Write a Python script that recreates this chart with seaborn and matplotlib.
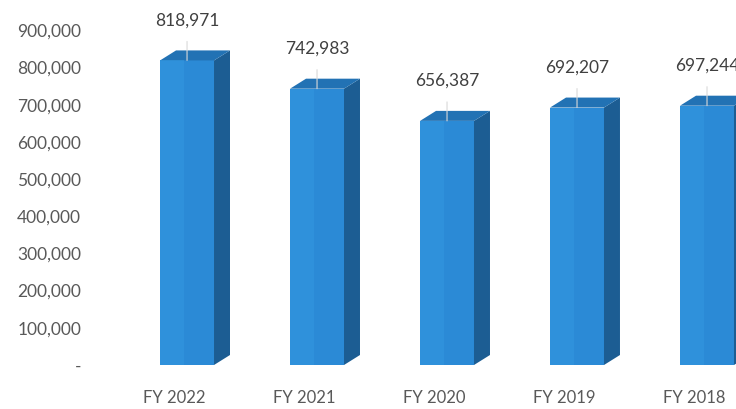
import numpy as np
import matplotlib
matplotlib.use("Agg")
import matplotlib.pyplot as plt
from matplotlib.patches import Polygon
import seaborn as sns

# ── data ─────────────────────────────────────────────
years  = ['FY 2022', 'FY 2021', 'FY 2020', 'FY 2019', 'FY 2018']
values = [818971, 742983, 656387, 692207, 697244]
yticks = [0, 100000, 200000, 300000, 400000, 500000, 600000, 700000, 800000, 900000]

FRONT = '#2b8ad6'
SIDE  = '#1c5d93'
TOP   = '#2272b4'
TXT   = '#404040'

sns.set_theme(style='white')
plt.rcParams['font.family'] = ['Lato', 'DejaVu Sans']

fig = plt.figure(figsize=(7.36, 4.09), dpi=100)
ax = fig.add_axes([95 / 736, 1 - 365 / 409, 1 - 95 / 736, 360 / 409])

sns.barplot(x=years, y=values, color=FRONT, width=0.415, saturation=1,
            edgecolor='none', ax=ax)

ax.set_ylim(0, 968000)
ax.set_xlim(-0.708, 4.223)

# fake 3d: side + top faces taken from each bar
depth_x = 0.123
depth_y = 26900
for p in ax.patches:
    x0 = p.get_x()
    x1 = x0 + p.get_width()
    h = p.get_height()
    side = Polygon([(x1, 0), (x1 + depth_x, depth_y), (x1 + depth_x, h + depth_y), (x1, h)],
                   closed=True, facecolor=SIDE, edgecolor='none', zorder=3)
    top = Polygon([(x0, h), (x0 + depth_x, h + depth_y), (x1 + depth_x, h + depth_y), (x1, h)],
                  closed=True, facecolor=TOP, edgecolor='none', zorder=3)
    ax.add_patch(side)
    ax.add_patch(top)
    # lighter strip on the left of the front face
    ax.add_patch(Polygon([(x0, 0), (x0 + p.get_width() * 0.45, 0),
                          (x0 + p.get_width() * 0.45, h), (x0, h)],
                         closed=True, facecolor='#3399e0', edgecolor='none',
                         alpha=0.5, zorder=3))

    ax.annotate(f'{int(round(h)):,}', xy=(p.get_x() + p.get_width() / 2, h),
                xytext=(0, 40), textcoords='offset pixels',
                ha='center', va='center', fontsize=12.5, color=TXT,
                annotation_clip=False,
                arrowprops=dict(arrowstyle='-', color='#d9d9d9', lw=0.8,
                                shrinkA=7, shrinkB=0))

ax.set_yticks(yticks)
ax.set_yticklabels(['-' if v == 0 else f'{v:,}' for v in yticks])
ax.set_xticks(np.arange(len(years)) - 0.1)
ax.set_xticklabels(years)
ax.tick_params(axis='y', length=0, pad=10, labelsize=12.5, labelcolor='#595959')
ax.tick_params(axis='x', length=0, pad=18, labelsize=12, labelcolor='#595959')
ax.set_xlabel('')
ax.set_ylabel('')
for s in ax.spines.values():
    s.set_visible(False)

fig.savefig('out.png', dpi=100)
